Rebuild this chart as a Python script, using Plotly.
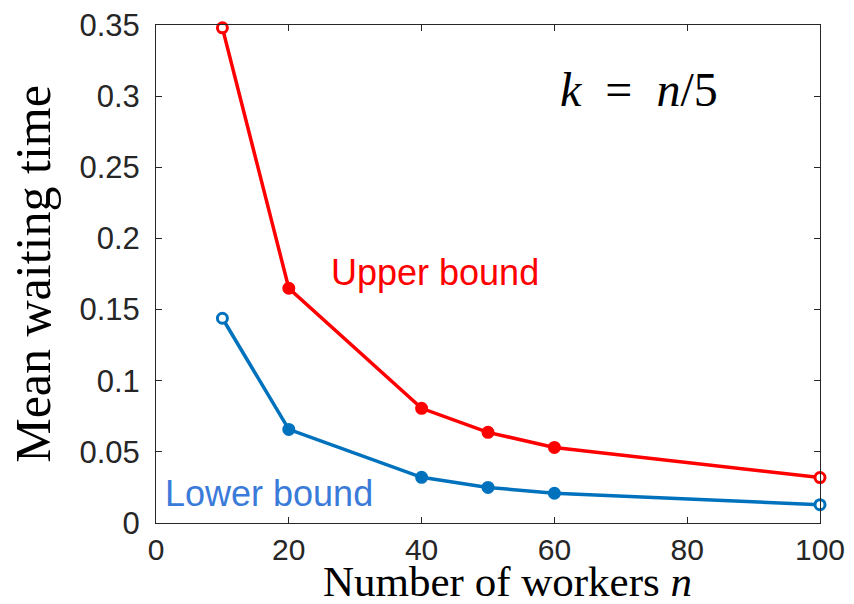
import plotly.graph_objects as go

workers = [10, 20, 40, 50, 60, 100]
upper_bound = [0.348, 0.165, 0.0806, 0.0637, 0.0531, 0.0319]
lower_bound = [0.1439, 0.0658, 0.0321, 0.0250, 0.0209, 0.0129]
x_ticks = [0, 20, 40, 60, 80, 100]
y_ticks = [0, 0.05, 0.1, 0.15, 0.2, 0.25, 0.3, 0.35]
y_tick_text = ["0", "0.05", "0.1", "0.15", "0.2", "0.25", "0.3", "0.35"]

RED = "#FF0000"
BLUE = "#0072BD"
AX = "#262626"
SERIF = "Liberation Serif, Times New Roman, serif"
SANS = "Liberation Sans, Arial, sans-serif"

def fills(color, n):
    return ["white" if i in (0, n - 1) else color for i in range(n)]

fig = go.Figure()
for vals, col in [(upper_bound, RED), (lower_bound, BLUE)]:
    fig.add_trace(go.Scatter(
        x=workers, y=vals, mode="lines+markers",
        line=dict(color=col, width=3.5),
        marker=dict(size=10, color=fills(col, len(vals)),
                    line=dict(color=col, width=3)),
        showlegend=False, cliponaxis=False,
    ))

fig.add_annotation(x=42.0, y=0.176, text="Upper bound", showarrow=False,
                   font=dict(family=SANS, size=36, color=RED))
fig.add_annotation(x=17.0, y=0.0208, text="Lower bound", showarrow=False,
                   font=dict(family=SANS, size=36, color="#3A7BDA"))
fig.add_annotation(x=72.8, y=0.3045, text="<i>k</i>  =  <i>n</i>/5", showarrow=False,
                   font=dict(family=SERIF, size=48, color="black"))
# x-axis title
fig.add_annotation(xref="paper", yref="paper", x=0.53, y=-0.118,
                   xanchor="center", yanchor="middle", showarrow=False,
                   text="Number of workers <i>n</i>",
                   font=dict(family=SERIF, size=43, color="black"))

fig.update_layout(
    width=854, height=604,
    margin=dict(l=156, r=34, t=25, b=81),
    paper_bgcolor="white", plot_bgcolor="white",
    font=dict(family=SANS, color=AX),
)
fig.update_xaxes(
    range=[0, 100], tickvals=x_ticks, ticks="inside", ticklen=6, tickcolor=AX,
    showline=True, linecolor=AX, linewidth=1, mirror="allticks",
    showgrid=False, zeroline=False, tickfont=dict(size=30, color=AX),
    ticklabelstandoff=0, automargin=False,
)
fig.update_yaxes(
    range=[0, 0.35], tickvals=y_ticks, ticktext=y_tick_text, ticks="inside", ticklen=6,
    tickcolor=AX, showline=True, linecolor=AX, linewidth=1, mirror="allticks",
    showgrid=False, zeroline=False, tickfont=dict(size=31, color=AX),
    ticklabelstandoff=9, automargin=False,
    title=dict(text="Mean waiting time", standoff=12,
               font=dict(family=SERIF, size=50, color="black")),
)

fig.write_html("out.html")
